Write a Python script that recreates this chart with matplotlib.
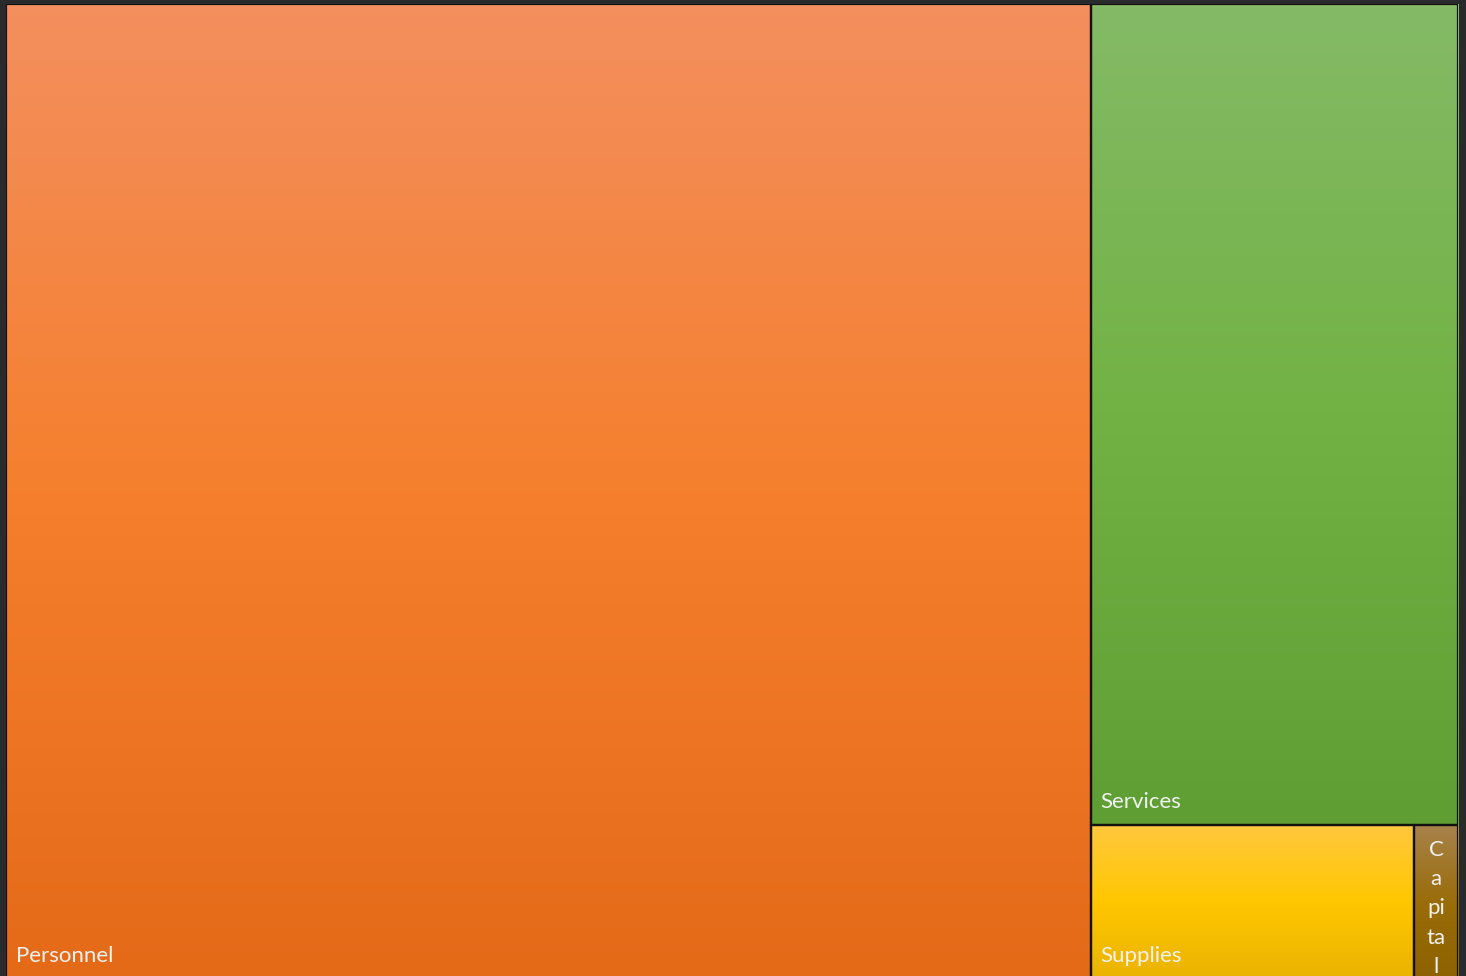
import matplotlib
matplotlib.use("Agg")
import matplotlib.pyplot as plt
from matplotlib.colors import LinearSegmentedColormap
from matplotlib.patches import Rectangle
import numpy as np

# budget shares (per 1000)
categories = ["Personnel", "Services", "Supplies", "Capital"]
values = [747, 213, 35.2, 4.8]
# label as shown (narrow box wraps the text)
shown_labels = ["Personnel", "Services", "Supplies", "C\na\npi\nta\nl"]
# gradient stops: top, middle, bottom
grad_colors = [
    ["#F38F5E", "#F57F2D", "#E46A18"],
    ["#84BA66", "#72B244", "#5E9E33"],
    ["#FFC83E", "#FFC700", "#EAB300"],
    ["#A8834C", "#9A6C0A", "#8E6200"],
]

W, H = 1452.0, 975.0


def worst(row, w):
    s = sum(row)
    return max(max(w * w * r / (s * s), (s * s) / (w * w * r)) for r in row)


def squarify(vals, x, y, w, h):
    # vals already scaled to area
    rects = []
    vals = list(vals)
    while vals:
        short = min(w, h)
        row = [vals.pop(0)]
        while vals and worst(row + [vals[0]], short) <= worst(row, short):
            row.append(vals.pop(0))
        s = sum(row)
        if w >= h:
            rw = s / h
            yy = y
            for r in row:
                rh = r / rw
                rects.append((x, yy, rw, rh))
                yy += rh
            x += rw
            w -= rw
        else:
            rh = s / w
            xx = x
            for r in row:
                rw = r / rh
                rects.append((xx, y, rw, rh))
                xx += rw
            y += rh
            h -= rh
    return rects


total = sum(values)
areas = [v / total * W * H for v in values]
rects = squarify(areas, 0, 0, W, H)

fig = plt.figure(figsize=(14.66, 9.76), dpi=100)
fig.patch.set_facecolor("#282a2b")
ax = fig.add_axes([6 / 1466, 1 - (4 + H) / 976, W / 1466, H / 976])
ax.set_xlim(0, W)
ax.set_ylim(H, 0)
ax.axis("off")

grad = np.linspace(0, 1, 256).reshape(-1, 1)
for (x, y, w, h), lab, cols in zip(rects, shown_labels, grad_colors):
    cmap = LinearSegmentedColormap.from_list("g", cols)
    im = ax.imshow(grad, cmap=cmap, extent=(x, x + w, y + h, y),
                   aspect="auto", interpolation="bilinear", zorder=1)
    r = Rectangle((x, y), w, h, facecolor="none", edgecolor="#111111",
                  linewidth=1.6, zorder=2)
    ax.add_patch(r)
    im.set_clip_path(r)
    if "\n" in lab:
        ax.text(x + w / 2, y + 15, lab, ha="center", va="top",
                color="#F2F2F2", fontsize=16, family="Lato",
                linespacing=1.58, zorder=3)
    else:
        ax.text(x + 10, y + h - 23, lab, ha="left", va="center",
                color="#F2F2F2", fontsize=16, family="Lato", zorder=3)

ax.set_xlim(0, W)
ax.set_ylim(H, 0)
fig.savefig("out.png", dpi=100, facecolor=fig.get_facecolor())
